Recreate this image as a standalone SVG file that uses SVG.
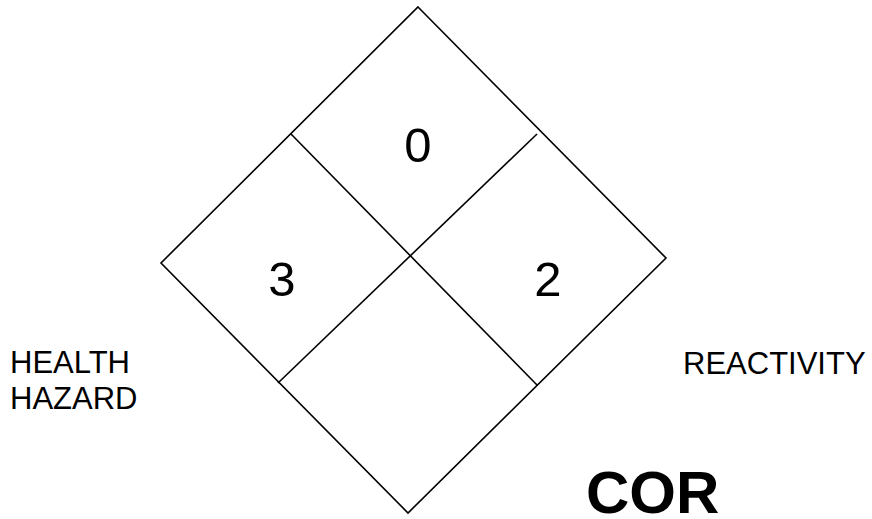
<svg xmlns="http://www.w3.org/2000/svg" width="872" height="519" viewBox="0 0 872 519">
<style>
.ln{stroke:#000;stroke-width:1.6;fill:none}
.t{font-family:"Liberation Sans",Arial,sans-serif;fill:#000}
.num{font-size:49px;text-anchor:middle}
.lab{font-size:31px}
</style>
<rect width="872" height="519" fill="#fff"/>
<g id="diamond">
<polygon class="ln" points="418,7 666,258 408,513 161,263"/>
</g>
<g id="connectors">
<line class="ln" x1="291" y1="134" x2="537" y2="385"/>
<line class="ln" x1="537" y1="134" x2="278" y2="383"/>
</g>
<g id="flammability"><text class="t num" x="418" y="162">0</text></g>
<g id="health"><text class="t num" x="282" y="296">3</text></g>
<g id="reactivity"><text class="t num" x="548" y="296">2</text></g>
<g id="health-label"><text class="t lab" x="10" y="373">HEALTH</text><text class="t lab" x="10" y="409">HAZARD</text></g>
<g id="reactivity-label"><text class="t lab" x="683" y="374">REACTIVITY</text></g>
<g id="special"><text class="t" x="586" y="513" font-size="60" font-weight="bold">COR</text></g>
</svg>
